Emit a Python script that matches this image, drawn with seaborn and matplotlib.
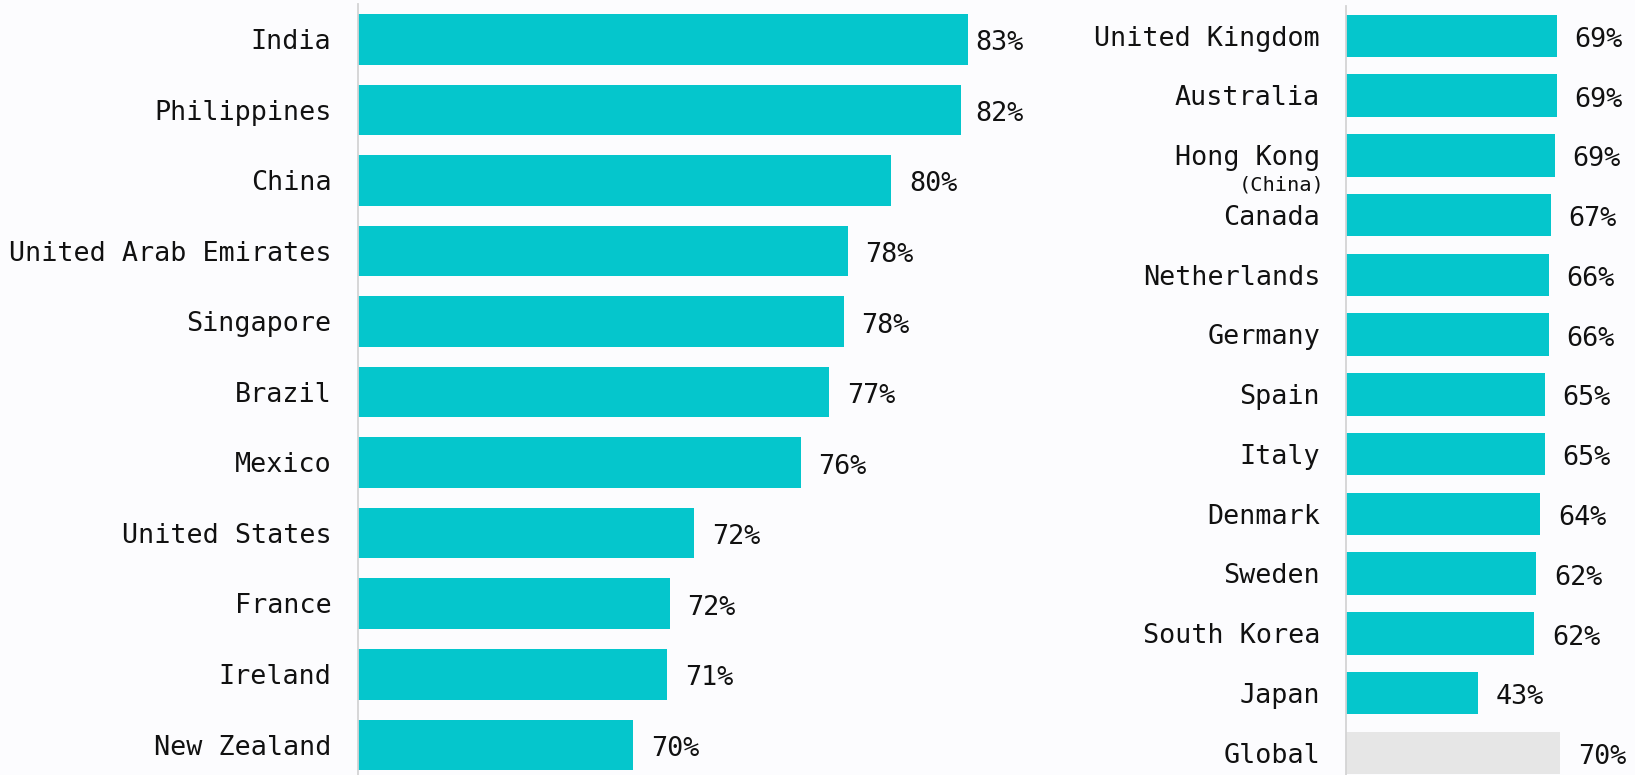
import matplotlib
matplotlib.use("Agg")
import matplotlib.pyplot as plt
import pandas as pd
import seaborn as sns

# ---- data -------------------------------------------------------------
left_countries = [
    "India", "Philippines", "China", "United Arab Emirates", "Singapore",
    "Brazil", "Mexico", "United States", "France", "Ireland", "New Zealand",
]
left_values = [82.6, 82.35, 79.75, 78.15, 78.0, 77.45, 76.4, 72.45, 71.55, 71.45, 70.2]

right_countries = [
    "United Kingdom", "Australia", "Hong Kong", "Canada", "Netherlands",
    "Germany", "Spain", "Italy", "Denmark", "Sweden", "South Korea",
    "Japan", "Global",
]
right_values = [69.1, 69.1, 68.6, 67.1, 66.4, 66.4, 65.1, 65.1, 63.7, 62.4, 61.8, 43.4, 70.3]
right_notes = {"Hong Kong": "(China)"}

# ---- style ------------------------------------------------------------
BG = "#fcfcfe"
BAR = "#05c6cc"
GLOBAL_GREY = "#e6e6e6"
TEXT = "#111111"
AXIS_LINE = "#d4d4d4"

sns.set_theme(style="white")
plt.rcParams["font.family"] = ["DejaVu Sans Mono", "DejaVu Sans"]

W, H = 1635, 775
fig = plt.figure(figsize=(W / 100, H / 100), dpi=100, facecolor=BG)


def px_box(x0, x1, y_top):
    return [x0 / W, 0, (x1 - x0) / W, 1 - y_top / H]


ax_l = fig.add_axes(px_box(358, 1030, 4))
ax_r = fig.add_axes(px_box(1346, 1635, 6))

df_l = pd.DataFrame({"country": left_countries, "share": left_values})
df_r = pd.DataFrame({"country": right_countries, "share": right_values})

pal_l = {c: BAR for c in left_countries}
pal_r = {c: (GLOBAL_GREY if c == "Global" else BAR) for c in right_countries}

sns.barplot(data=df_l, x="share", y="country", hue="country", palette=pal_l,
            legend=False, width=0.716, saturation=1, errorbar=None,
            linewidth=0, ax=ax_l)
sns.barplot(data=df_r, x="share", y="country", hue="country", palette=pal_r,
            legend=False, width=0.71, saturation=1, errorbar=None,
            linewidth=0, ax=ax_r)

# left panel is zoomed in on the upper range, right panel starts at zero
ax_l.set_xlim(60, 60 + (1030 - 358) / 27.0)
ax_l.set_ylim(10.428, -0.5)
ax_r.set_xlim(0, (1635 - 1346) / 3.05)
ax_r.set_ylim(12.37, -0.5)

FS = 19.3
CAP_HALF = 7.0       # half the cap height, in points
VAL_DROP = 8.0       # baseline drop for value labels, in points
GAP = 12.6           # gap between bar end and value label, in points


def style_axes(ax, names, values, pad, value_cap=None):
    ax.set_facecolor(BG)
    ax.set_xlabel("")
    ax.set_ylabel("")
    ax.set_xticks([])
    ax.set_yticks([])
    for s in ("top", "right", "bottom"):
        ax.spines[s].set_visible(False)
    ax.spines["left"].set_color(AXIS_LINE)
    ax.spines["left"].set_linewidth(1.3)
    for i, (name, v) in enumerate(zip(names, values)):
        ax.annotate(name, xy=(0, i), xycoords=("axes fraction", "data"),
                    xytext=(-pad, -CAP_HALF), textcoords="offset points",
                    ha="right", va="baseline", fontsize=FS, color=TEXT,
                    annotation_clip=False)
        x_lab = v if value_cap is None else min(v, value_cap)
        ax.annotate(f"{v:.0f}%", xy=(x_lab, i), xytext=(GAP, -VAL_DROP),
                    textcoords="offset points", ha="left", va="baseline",
                    fontsize=FS, color=TEXT, annotation_clip=False)


style_axes(ax_l, left_countries, left_values, pad=19.2, value_cap=82.23)
style_axes(ax_r, right_countries, right_values, pad=18.7)

for name, note in right_notes.items():
    i = right_countries.index(name)
    ax_r.annotate(note, xy=(0, i), xycoords=("axes fraction", "data"),
                  xytext=(-15.8, -25.0), textcoords="offset points",
                  ha="right", va="baseline", fontsize=14.7, color=TEXT,
                  annotation_clip=False)

fig.savefig("out.png", dpi=100, facecolor=BG)
